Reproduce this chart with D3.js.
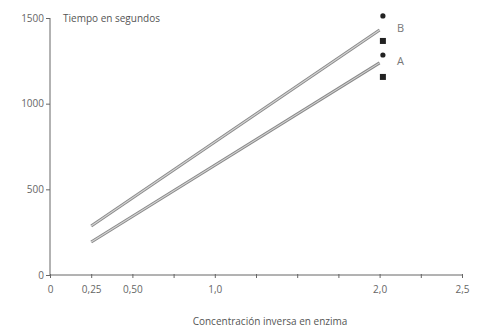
<!DOCTYPE html>
<html>
<head>
<meta charset="utf-8">
<script src="https://cdn.jsdelivr.net/npm/d3@7/dist/d3.min.js"></script>
<style>
  body { margin: 0; background: #fff; }
  text { font-family: "Open Sans", sans-serif; fill: #555; }
</style>
</head>
<body>
<svg id="chart" width="478" height="330"></svg>
<script>
// values
var xTicks = [0, 0.25, 0.5, 0.75, 1.0, 1.25, 1.5, 1.75, 2.0, 2.25, 2.5];
var xLabels = {0: "0", 0.25: "0,25", 0.5: "0,50", 1.0: "1,0", 2.0: "2,0", 2.5: "2,5"};
var yTicks = [0, 500, 1000, 1500];

var lineNames = ["A", "B"];
var lineX = [0.25, 2.0];
var lineA = [193, 1238];
var lineB = [286, 1430];

var pointX = 2.02;
var pointsB = { circle: 1512, square: 1366 };
var pointsA = { circle: 1284, square: 1156 };

var svg = d3.select("#chart");

var x = d3.scaleLinear().domain([0, 2.5]).range([50, 462]);
var y = d3.scaleLinear().domain([0, 1500]).range([275, 18]);

// axes
var xAxis = d3.axisBottom(x).tickValues(xTicks).tickSize(4)
  .tickFormat(function (d) { return xLabels[d] !== undefined ? xLabels[d] : ""; });
var gx = svg.append("g").attr("transform", "translate(0," + y(0) + ")").call(xAxis);
gx.select(".domain").attr("stroke", "#666").attr("d", "M" + x(0) + ",0H" + x(2.5));
gx.selectAll(".tick line").attr("stroke", "#666").attr("y1", -1).attr("y2", 3);
gx.selectAll(".tick text").attr("dy", "1.1em").style("font-size", "10px").style("fill", "#666");

var yAxis = d3.axisLeft(y).tickValues(yTicks).tickSize(4).tickFormat(d3.format("d"));
var gy = svg.append("g").attr("transform", "translate(" + x(0) + ",0)").call(yAxis);
gy.select(".domain").attr("stroke", "#666").attr("d", "M0," + y(0) + "V" + y(1500));
gy.selectAll(".tick line").attr("stroke", "#666");
gy.selectAll(".tick text").attr("x", -6).style("font-size", "10px").style("fill", "#666");

// lines: drawn as a hollow double stroke
var line = d3.line().x(function (d, i) { return x(lineX[i]); }).y(function (d) { return y(d); });
[lineA, lineB].forEach(function (vals) {
  svg.append("path").attr("d", line(vals)).attr("fill", "none")
    .attr("stroke", "#8a8a8a").attr("stroke-width", 3);
  svg.append("path").attr("d", line(vals)).attr("fill", "none")
    .attr("stroke", "#d4d4d4").attr("stroke-width", 1.1);
});

// points
[pointsA, pointsB].forEach(function (p) {
  svg.append("circle").attr("cx", x(pointX)).attr("cy", y(p.circle)).attr("r", 2.6).attr("fill", "#222");
  svg.append("rect").attr("x", x(pointX) - 3).attr("y", y(p.square) - 3)
    .attr("width", 6).attr("height", 6).attr("fill", "#222");
});

// labels
svg.append("text").attr("x", 397).attr("y", y(1430) + 2).text("B").style("font-size", "11px").style("fill", "#777");
svg.append("text").attr("x", 397).attr("y", y(1238) + 2).text("A").style("font-size", "11px").style("fill", "#777");

svg.append("text").attr("x", 63).attr("y", 22).text("Tiempo en segundos")
  .style("font-size", "10px").style("fill", "#555");
svg.append("text").attr("x", 270).attr("y", 325).attr("text-anchor", "middle")
  .text("Concentración inversa en enzima").style("font-size", "10px").style("fill", "#555");
</script>
</body>
</html>
